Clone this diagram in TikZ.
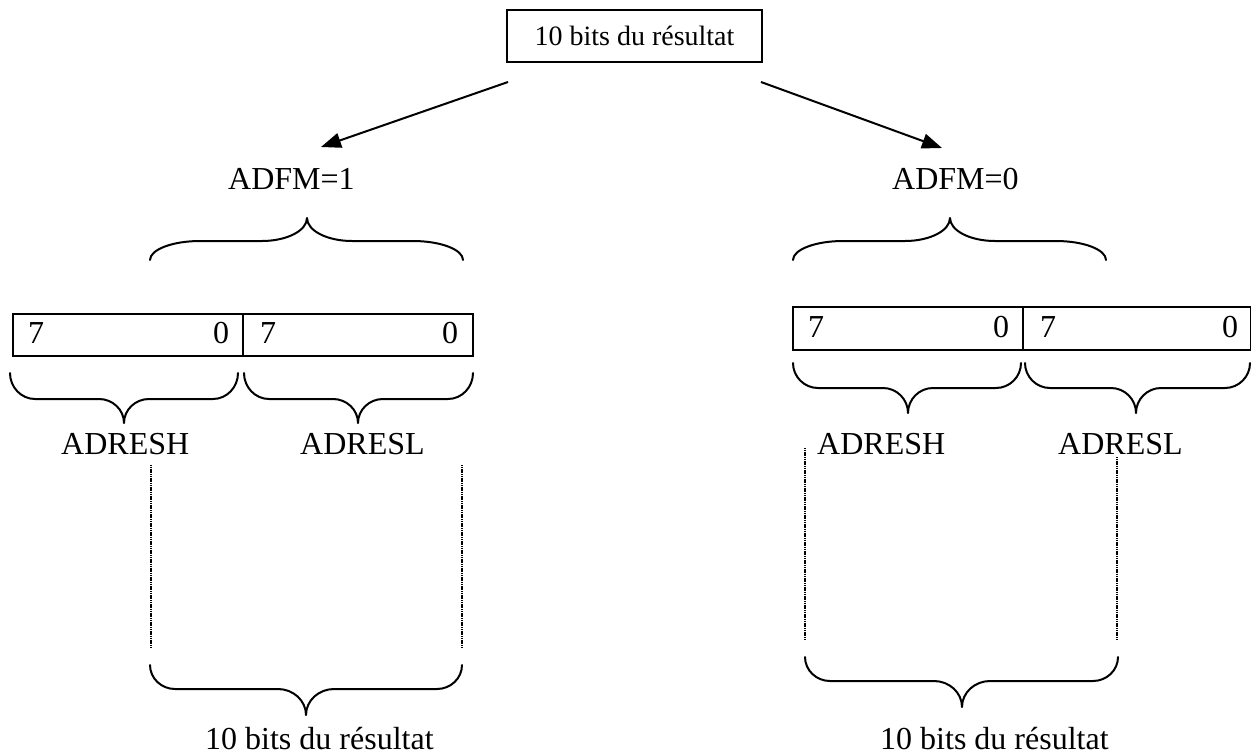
\documentclass[tikz,border=0pt]{standalone}
\usepackage{fontspec}
\setmainfont{Liberation Serif}
\usetikzlibrary{arrows.meta}

% curly brace: x1, x2, tip x, end y, straight y, tip y, end radius, tip radius
\newcommand\wbrace[8]{%
  \draw[bracestyle] (#1,#4)
    .. controls (#1,{#4+0.55*(#5-#4)}) and ({#1+0.45*#7},#5) .. ({#1+#7},#5)
    -- ({#3-#8},#5)
    .. controls ({#3-0.45*#8},#5) and (#3,{#5+0.45*(#6-#5)}) .. (#3,#6)
    .. controls (#3,{#5+0.45*(#6-#5)}) and ({#3+0.45*#8},#5) .. ({#3+#8},#5)
    -- ({#2-#7},#5)
    .. controls ({#2-0.45*#7},#5) and (#2,{#4+0.55*(#5-#4)}) .. (#2,#4);}

\begin{document}
\begin{tikzpicture}[x=1pt,y=-1pt,
  bracestyle/.style={line width=2pt,line cap=round,line join=round},
  boxline/.style={line width=1.7pt},
  lbl/.style={inner sep=0pt,anchor=base west,font=\fontsize{32}{36}\selectfont},
  arrowline/.style={line width=2pt,-{Triangle[length=20pt,width=15pt]}},
  dotline/.style={line width=1.8pt,dash pattern=on 1.2pt off 0.6pt}]

\useasboundingbox (0,0) rectangle (1252,755);

% top box
\node[draw,boxline,minimum width=255pt,minimum height=52pt,inner sep=0pt,
  font=\fontsize{28}{32}\selectfont] (top) at (634.5,36) {10 bits du résultat};

% branch labels
\node[lbl] (adfm1) at (228,189) {ADFM=1};
\node[lbl] (adfm0) at (892,189) {ADFM=0};

\coordinate (la) at (508,82);
\coordinate (lb) at (321,147);
\coordinate (ra) at (761,82);
\coordinate (rb) at (942,148);
\draw[arrowline] (la) -- (lb);
\draw[arrowline] (ra) -- (rb);

% braces under the branch labels
\wbrace{150}{463}{307}{260}{241}{218}{50}{45}
\wbrace{793}{1106}{950}{260}{241}{218}{50}{45}

% left register pair
\draw[boxline] (13,314) rectangle (473,356);
\draw[boxline] (243,314) -- (243,356);
\node[lbl] (l7a) at (28,343) {7};
\node[lbl] (l0a) at (213,343) {0};
\node[lbl] (l7b) at (260,343) {7};
\node[lbl] (l0b) at (442,343) {0};

% right register pair
\draw[boxline] (793,307) rectangle (1250.5,350);
\draw[boxline] (1023,307) -- (1023,350);
\node[lbl] (r7a) at (808,337) {7};
\node[lbl] (r0a) at (993,337) {0};
\node[lbl] (r7b) at (1040,337) {7};
\node[lbl] (r0b) at (1222,337) {0};

% braces under the registers
\wbrace{10}{238}{124}{373}{399}{423}{25}{25}
\wbrace{244}{473}{358}{373}{399}{423}{25}{25}
\wbrace{793}{1021}{908}{363}{388}{413}{25}{25}
\wbrace{1025}{1250}{1136}{363}{388}{413}{25}{25}

% register names
\node[lbl] (lh) at (61,454) {ADRESH};
\node[lbl] (ll) at (300,454) {ADRESL};
\node[lbl] (rh) at (817,454) {ADRESH};
\node[lbl] (rl) at (1058,454) {ADRESL};

% dotted guides
\coordinate (g1a) at (151,465); \coordinate (g1b) at (151,648);
\coordinate (g2a) at (462,465); \coordinate (g2b) at (462,648);
\coordinate (g3a) at (805,448); \coordinate (g3b) at (805,640);
\coordinate (g4a) at (1117,457); \coordinate (g4b) at (1117,640);
\draw[dotline] (g1a) -- (g1b);
\draw[dotline] (g2a) -- (g2b);
\draw[dotline] (g3a) -- (g3b);
\draw[dotline] (g4a) -- (g4b);

% result braces
\wbrace{150}{462}{306}{665}{689}{715}{25}{28}
\wbrace{805}{1118}{962}{657}{681}{707}{25}{28}

\node[lbl] (resl) at (205,749) {10 bits du résultat};
\node[lbl] (resr) at (880,749) {10 bits du résultat};
\end{tikzpicture}
\end{document}
